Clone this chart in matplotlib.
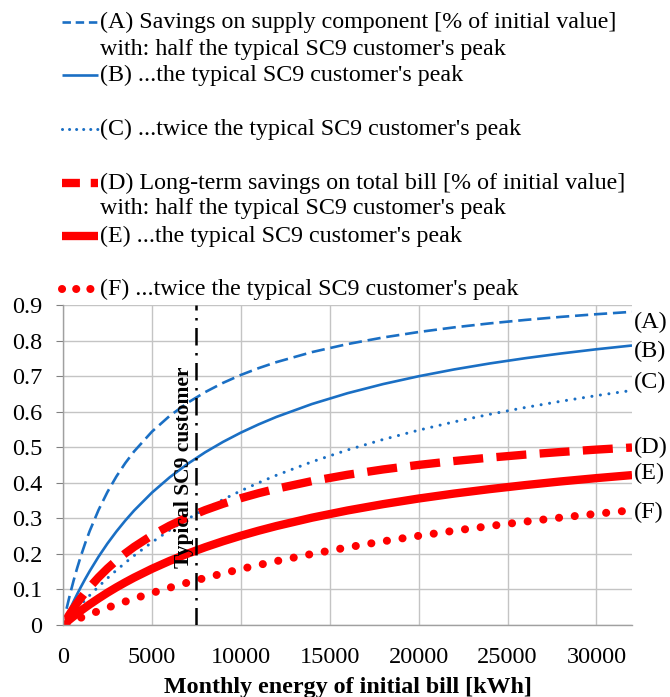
import matplotlib
matplotlib.use("Agg")
import matplotlib.pyplot as plt
from matplotlib.lines import Line2D

plt.rcParams["font.family"] = ["Liberation Serif", "DejaVu Serif"]

# Monthly energy of the initial bill [kWh]
energy = [200, 400, 600, 800, 1000, 1250, 1500, 2000, 2500, 3000, 3500, 4000, 5000, 6000,
          7000, 8000, 9000, 10000, 11000, 12000, 14000, 16000, 18000, 20000, 22000, 24000,
          26000, 28000, 30000, 32000]

# Savings on supply component (fraction of initial value)
supply_half = [0.0457, 0.0875, 0.1257, 0.1608, 0.1932, 0.2303, 0.2642, 0.3236, 0.3741, 0.4175,
               0.4552, 0.4883, 0.5437, 0.5882, 0.6247, 0.6551, 0.681, 0.7032, 0.7224, 0.7393,
               0.7675, 0.7901, 0.8086, 0.824, 0.8371, 0.8483, 0.858, 0.8666, 0.8741, 0.8808]
supply_typical = [0.0233, 0.0455, 0.0667, 0.087, 0.1065, 0.1296, 0.1515, 0.1922, 0.2292, 0.2628,
                  0.2936, 0.322, 0.3722, 0.4154, 0.4529, 0.4859, 0.515, 0.541, 0.5642, 0.5852,
                  0.6215, 0.6519, 0.6776, 0.6996, 0.7188, 0.7356, 0.7504, 0.7636, 0.7755, 0.7861]
supply_twice = [0.012, 0.0237, 0.0351, 0.0462, 0.0571, 0.0704, 0.0833, 0.1081, 0.1316, 0.1538,
                0.175, 0.1951, 0.2326, 0.2667, 0.2979, 0.3265, 0.3529, 0.3774, 0.4, 0.4211,
                0.459, 0.4923, 0.5217, 0.5479, 0.5714, 0.5926, 0.6118, 0.6292, 0.6452, 0.6598]

# Long-term savings on total bill (fraction of initial value)
total_half = [0.0167, 0.0325, 0.0475, 0.0618, 0.0753, 0.0913, 0.1064, 0.1341, 0.1589, 0.1812,
              0.2014, 0.2198, 0.2521, 0.2794, 0.3028, 0.3232, 0.341, 0.3567, 0.3707, 0.3832,
              0.4047, 0.4225, 0.4375, 0.4502, 0.4612, 0.4707, 0.4792, 0.4866, 0.4933, 0.4992]
total_typical = [0.0084, 0.0166, 0.0246, 0.0323, 0.0399, 0.049, 0.0579, 0.0748, 0.0908, 0.1058,
                 0.1199, 0.1333, 0.158, 0.1803, 0.2005, 0.2188, 0.2356, 0.251, 0.2652, 0.2783,
                 0.3018, 0.3221, 0.3399, 0.3557, 0.3697, 0.3822, 0.3935, 0.4038, 0.4131, 0.4216]
total_twice = [0.0042, 0.0083, 0.0124, 0.0164, 0.0204, 0.0253, 0.0301, 0.0395, 0.0486, 0.0574,
               0.0659, 0.0742, 0.0901, 0.105, 0.1192, 0.1325, 0.1452, 0.1573, 0.1687, 0.1796,
               0.1999, 0.2183, 0.2353, 0.2508, 0.2651, 0.2784, 0.2907, 0.3022, 0.3128, 0.3228]

typical_customer_kwh = 7500

series_tags = ["(A)", "(B)", "(C)", "(D)", "(E)", "(F)"]
tag_y = [0.85, 0.768, 0.683, 0.50, 0.427, 0.317]

legend_lines = [
    ("(A) Savings on supply component [% of initial value]", 0),
    ("with: half the typical SC9 customer's peak", None),
    ("(B) ...the typical SC9 customer's peak", 1),
    ("(C) ...twice the typical SC9 customer's peak", 2),
    ("(D) Long-term savings on total bill [% of initial value]", 3),
    ("with: half the typical SC9 customer's peak", None),
    ("(E) ...the typical SC9 customer's peak", 4),
    ("(F) ...twice the typical SC9 customer's peak", 5),
]
legend_rows_px = [22, 49, 75, 129, 183, 209, 236, 289]

BLUE = "#1a6fc4"
RED = "#ff0000"
styles = [
    dict(color=BLUE, lw=1.9, linestyle=(0, (5, 2.2))),
    dict(color=BLUE, lw=1.9),
    dict(color=BLUE, lw=2.2, linestyle=(0, (0.01, 2.8)), dash_capstyle="round"),
    dict(color=RED, lw=6.0, linestyle=(0, (3.6, 1.6))),
    dict(color=RED, lw=6.0),
    dict(color=RED, lw=5.8, linestyle=(0, (0.01, 1.95)), dash_capstyle="round"),
]
# short samples in the legend use slightly adjusted phases
legend_styles = [
    dict(color=BLUE, lw=1.9, linestyle=(0, (3.2, 1.8))),
    dict(color=BLUE, lw=1.9),
    dict(color=BLUE, lw=2.2, linestyle=(0, (0.01, 2.3)), dash_capstyle="round"),
    dict(color=RED, lw=6.0, linestyle=(1.45, (3.6, 1.3))),
    dict(color=RED, lw=6.0),
    dict(color=RED, lw=5.8, linestyle=(0, (0.01, 1.75)), dash_capstyle="round"),
]
series = [supply_half, supply_typical, supply_twice, total_half, total_typical, total_twice]

W, H = 670, 697
fig = plt.figure(figsize=(W / 100, H / 100), dpi=100)
ax = fig.add_axes([63 / W, 1 - 625 / H, (632 - 63) / W, (625 - 305) / H])

for ys, st in zip(series, styles):
    ax.plot(energy, ys, solid_capstyle="butt", solid_joinstyle="round", **st)

ax.axvline(typical_customer_kwh, color="black", lw=1.8, linestyle=(0, (7, 3, 1, 3)), zorder=3)
ax.text(6800, 0.445, "Typical SC9 customer", rotation=90, ha="center", va="center",
        fontsize=15.5, fontweight="bold")

for tag, ty in zip(series_tags, tag_y):
    ax.text(32100, ty, tag, ha="left", va="center", fontsize=17.5, clip_on=False)

ax.set_xlim(0, 32000)
ax.set_ylim(0, 0.9)
ax.set_xticks(range(0, 30001, 5000))
ax.set_yticks([i / 10 for i in range(10)])
ax.set_yticklabels(["0"] + [f"0.{i}" for i in range(1, 10)])
ax.grid(True, color="#c4c4c4", lw=1.0)
ax.set_axisbelow(True)
for side in ["top", "right"]:
    ax.spines[side].set_visible(False)
for side in ["left", "bottom"]:
    ax.spines[side].set_color("#a0a0a0")
    ax.spines[side].set_linewidth(1.0)
ax.tick_params(axis="y", length=5, color="#808080", labelsize=17.5, pad=10)
ax.tick_params(axis="x", length=0, labelsize=17.5, pad=16)
ax.set_xlabel("Monthly energy of initial bill [kWh]", fontsize=17.3, fontweight="bold", labelpad=6)

# Legend drawn by hand above the plot area
to_fig = lambda px, py: (px / W, 1 - py / H)
for (label, idx), row in zip(legend_lines, legend_rows_px):
    tx, ty = to_fig(100, row)
    fig.text(tx, ty, label, ha="left", va="center", fontsize=17.3)
    if idx is not None:
        (x0, y0), (x1, _) = to_fig(62, row), to_fig(98, row)
        fig.add_artist(Line2D([x0, x1], [y0, y0], transform=fig.transFigure,
                              solid_capstyle="butt", **legend_styles[idx]))

fig.savefig("out.png", dpi=100, facecolor="white")
